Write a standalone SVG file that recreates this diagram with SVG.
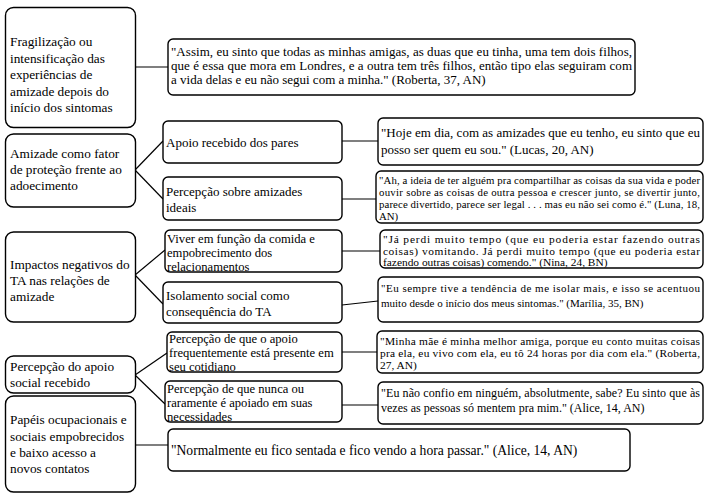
<svg xmlns="http://www.w3.org/2000/svg" width="709" height="494" viewBox="0 0 709 494" font-family="'Liberation Serif', 'Times New Roman', serif">
<style>
rect{fill:#fff;stroke:#000;stroke-width:1.4}
.m{rx:8px}
.s{rx:5px}
text{font-family:"Liberation Serif","Times New Roman",serif;fill:#000}
.t{font-size:13.3px}
.u{font-size:13px}
.u3{font-size:12.6px}
.q{font-size:12px}
.q2{font-size:11.4px}
.qs{font-size:10.8px}
.c line{stroke:#000;stroke-width:1.2}
</style>
<rect width="709" height="494" style="fill:#fff;stroke:none"/>
<g class="c" id="connectors">
<line x1="135" y1="67" x2="168" y2="67"/>
<line x1="135" y1="170" x2="163" y2="141"/>
<line x1="135" y1="170" x2="163" y2="199"/>
<line x1="342" y1="141" x2="378" y2="141"/>
<line x1="342" y1="199" x2="376" y2="199"/>
<line x1="135" y1="275" x2="165" y2="250"/>
<line x1="135" y1="275" x2="163" y2="304"/>
<line x1="342" y1="251" x2="380" y2="251"/>
<line x1="342" y1="305" x2="378" y2="301"/>
<line x1="135" y1="375" x2="167" y2="353"/>
<line x1="135" y1="375" x2="165" y2="404"/>
<line x1="342" y1="352" x2="377" y2="352"/>
<line x1="342" y1="405" x2="378" y2="405"/>
<line x1="135" y1="445" x2="168" y2="445"/>
</g>
<g id="a1"><rect class="m" x="5.5" y="7.5" width="130" height="120"/>
<text class="t"><tspan x="10" y="46">Fragilização ou</tspan><tspan x="10" y="62.5">intensificação das</tspan><tspan x="10" y="79">experiências de</tspan><tspan x="10" y="95.5">amizade depois do</tspan><tspan x="10" y="112">início dos sintomas</tspan></text></g>
<g id="q1"><rect class="s" x="168" y="39" width="467" height="56"/>
<text style="font-size:13px"><tspan x="171" y="56" textLength="461" lengthAdjust="spacing">"Assim, eu sinto que todas as minhas amigas, as duas que eu tinha, uma tem dois filhos,</tspan></text>
<text style="font-size:13px"><tspan x="171" y="70" textLength="461" lengthAdjust="spacing">que é essa que mora em Londres, e a outra tem três filhos, então tipo elas seguiram com</tspan></text>
<text style="font-size:13px"><tspan x="171" y="84">a vida delas e eu não segui com a minha." (Roberta, 37, AN)</tspan></text></g>
<g id="a2"><rect class="m" x="5.5" y="134" width="130" height="73"/>
<text class="t"><tspan x="10" y="158">Amizade como fator</tspan><tspan x="10" y="174">de proteção frente ao</tspan><tspan x="10" y="190">adoecimento</tspan></text></g>
<g id="s1"><rect class="s" x="163" y="121" width="179" height="42"/>
<text class="u"><tspan x="166" y="147">Apoio recebido dos pares</tspan></text></g>
<g id="s2"><rect class="s" x="163" y="177" width="179" height="43"/>
<text class="u"><tspan x="166" y="196">Percepção sobre amizades</tspan><tspan x="166" y="212">ideais</tspan></text></g>
<g id="qa"><rect class="s" x="378" y="118" width="325" height="47"/>
<text style="font-size:13px"><tspan x="381" y="137" textLength="319" lengthAdjust="spacing">"Hoje em dia, com as amizades que eu tenho, eu sinto que eu</tspan></text>
<text style="font-size:13px"><tspan x="381" y="154">posso ser quem eu sou." (Lucas, 20, AN)</tspan></text></g>
<g id="qb"><rect class="s" x="376" y="171" width="327" height="52"/>
<text class="qs"><tspan x="379" y="184" textLength="321" lengthAdjust="spacing">"Ah, a ideia de ter alguém pra compartilhar as coisas da sua vida e poder</tspan></text>
<text class="qs"><tspan x="379" y="196" textLength="321" lengthAdjust="spacing">ouvir sobre as coisas de outra pessoa e crescer junto, se divertir junto,</tspan></text>
<text class="qs"><tspan x="379" y="208" textLength="321" lengthAdjust="spacing">parece divertido, parece ser legal . . . mas eu não sei como é." (Luna, 18,</tspan></text>
<text class="qs"><tspan x="379" y="220">AN)</tspan></text></g>
<g id="a3"><rect class="m" x="5.5" y="232" width="130" height="90"/>
<text class="t"><tspan x="10" y="269">Impactos negativos do</tspan><tspan x="10" y="285">TA nas relações de</tspan><tspan x="10" y="301">amizade</tspan></text></g>
<g id="s3"><rect class="s" x="165" y="230" width="177" height="42"/>
<text class="u3"><tspan x="167" y="242.5">Viver em função da comida e</tspan><tspan x="167" y="256.5">empobrecimento dos</tspan><tspan x="167" y="270.5">relacionamentos</tspan></text></g>
<g id="s4"><rect class="s" x="163" y="282" width="179" height="41"/>
<text class="u"><tspan x="166" y="300">Isolamento social como</tspan><tspan x="166" y="316">consequência do TA</tspan></text></g>
<g id="qc"><rect class="s" x="380" y="230" width="323" height="38"/>
<text class="q2"><tspan x="383" y="243" textLength="317" lengthAdjust="spacing">"Já perdi muito tempo (que eu poderia estar fazendo outras</tspan></text>
<text class="q2"><tspan x="383" y="254.5" textLength="317" lengthAdjust="spacing">coisas) vomitando. Já perdi muito tempo (que eu poderia estar</tspan></text>
<text class="q2"><tspan x="383" y="266">fazendo outras coisas) comendo." (Nina, 24, BN)</tspan></text></g>
<g id="qd"><rect class="s" x="378" y="277" width="325" height="45"/>
<text style="font-size:11px"><tspan x="381" y="292" textLength="319" lengthAdjust="spacing">"Eu sempre tive a tendência de me isolar mais, e isso se acentuou</tspan></text>
<text style="font-size:11px"><tspan x="381" y="307">muito desde o início dos meus sintomas." (Marília, 35, BN)</tspan></text></g>
<g id="a4"><rect class="m" x="5.5" y="356" width="130" height="37"/>
<text class="t"><tspan x="10" y="371">Percepção do apoio</tspan><tspan x="10" y="387">social recebido</tspan></text></g>
<g id="s5"><rect class="s" x="167" y="332" width="175" height="40"/>
<text class="u3"><tspan x="169" y="343">Percepção de que o apoio</tspan><tspan x="169" y="357">frequentemente está presente em</tspan><tspan x="169" y="371">seu cotidiano</tspan></text></g>
<g id="s6"><rect class="s" x="165" y="381" width="177" height="41"/>
<text class="u3"><tspan x="167" y="392.5">Percepção de que nunca ou</tspan><tspan x="167" y="406.5">raramente é apoiado em suas</tspan><tspan x="167" y="420.5">necessidades</tspan></text></g>
<g id="qe"><rect class="s" x="377" y="331" width="326" height="42"/>
<text class="q2"><tspan x="380" y="345" textLength="320" lengthAdjust="spacing">"Minha mãe é minha melhor amiga, porque eu conto muitas coisas</tspan></text>
<text class="q2"><tspan x="380" y="357" textLength="320" lengthAdjust="spacing">pra ela, eu vivo com ela, eu tô 24 horas por dia com ela." (Roberta,</tspan></text>
<text class="q2"><tspan x="380" y="368.5">27, AN)</tspan></text></g>
<g id="qf"><rect class="s" x="378" y="382" width="325" height="42"/>
<text class="q"><tspan x="381" y="397" textLength="319" lengthAdjust="spacing">"Eu não confio em ninguém, absolutmente, sabe? Eu sinto que às</tspan></text>
<text class="q"><tspan x="381" y="412">vezes as pessoas só mentem pra mim." (Alice, 14, AN)</tspan></text></g>
<g id="a5"><rect class="m" x="5.5" y="396" width="130" height="96"/>
<text class="t"><tspan x="10" y="424">Papéis ocupacionais e</tspan><tspan x="10" y="440.5">sociais empobrecidos</tspan><tspan x="10" y="457">e baixo acesso a</tspan><tspan x="10" y="473">novos contatos</tspan></text></g>
<g id="qg"><rect class="s" x="168" y="429" width="462" height="42"/>
<text style="font-size:13.6px"><tspan x="171" y="455">"Normalmente eu fico sentada e fico vendo a hora passar." (Alice, 14, AN)</tspan></text></g>
</svg>
